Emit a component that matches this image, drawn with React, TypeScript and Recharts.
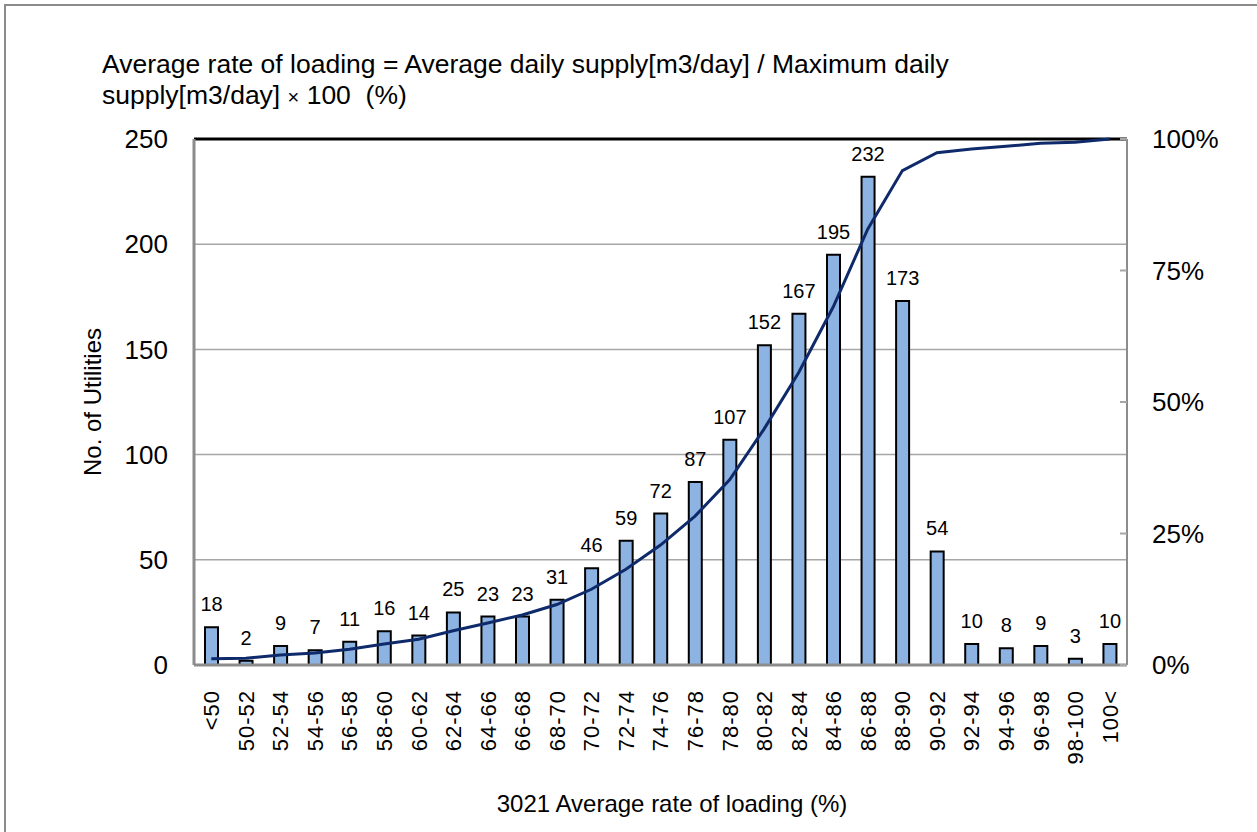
import React from "react";
import {
  ComposedChart,
  Bar,
  Line,
  XAxis,
  YAxis,
  CartesianGrid,
  ReferenceLine,
  LabelList,
} from "recharts";

// loading-rate bands (x axis)
const bands = [
  "<50", "50-52", "52-54", "54-56", "56-58", "58-60", "60-62", "62-64", "64-66",
  "66-68", "68-70", "70-72", "72-74", "74-76", "76-78", "78-80", "80-82", "82-84",
  "84-86", "86-88", "88-90", "90-92", "92-94", "94-96", "96-98", "98-100", "100<",
];

// number of utilities per band
const utilities = [
  18, 2, 9, 7, 11, 16, 14, 25, 23, 23, 31, 46, 59, 72, 87, 107, 152, 167, 195, 232,
  173, 54, 10, 8, 9, 3, 10,
];

// cumulative share (%)
const cumulative = [
  1.2, 1.3, 1.9, 2.3, 3.0, 4.0, 4.9, 6.5, 8.0, 9.5, 11.5, 14.4, 18.2, 22.8, 28.3,
  35.2, 44.9, 55.6, 68.1, 82.9, 94.0, 97.4, 98.1, 98.6, 99.2, 99.4, 100,
];

const leftTicks = [0, 50, 100, 150, 200, 250];
const rightTicks = [0, 25, 50, 75, 100];

const data = bands.map((band, i) => ({
  band,
  count: utilities[i],
  cum: cumulative[i],
}));

const FONT = '"Liberation Sans", Arial, sans-serif';

const BandTick = (props: any) => {
  const { x, y, payload } = props;
  return (
    <text
      x={x}
      y={y}
      dy="0.36em"
      transform={`rotate(-90, ${x}, ${y})`}
      textAnchor="end"
      fontSize={22}
      letterSpacing={1}
      fontFamily={FONT}
      fill="#000"
    >
      {payload.value}
    </text>
  );
};

const ShareTick = (props: any) => {
  const { x, y, payload } = props;
  return (
    <g>
      <line x1={x - 32} x2={x - 25} y1={y} y2={y} stroke="#a6a6a6" strokeWidth={2} />
      <text x={x} y={y} dy="0.36em" textAnchor="start" fontSize={26} fontFamily={FONT} fill="#000">
        {`${payload.value}%`}
      </text>
    </g>
  );
};

export default function App() {
  return (
    <div style={{ position: "absolute", left: 0, top: 0, width: 1257, height: 832, background: "#fff", overflow: "hidden", fontFamily: FONT }}>
      <div
        style={{
          position: "absolute",
          left: 4,
          top: 4,
          width: 1270,
          height: 850,
          border: "2px solid #8c8c8c",
          boxSizing: "border-box",
        }}
      />
      <div style={{ position: "absolute", left: 102, top: 49, fontSize: 26.5, lineHeight: "31px", color: "#000", whiteSpace: "nowrap" }}>
        Average rate of loading = Average daily supply[m3/day] / Maximum daily
        <br />
        supply[m3/day] <span style={{ fontSize: 20 }}>×</span> 100&nbsp; (%)
      </div>
      <div style={{ position: "absolute", left: 0, width: 1344, top: 790, textAlign: "center", fontSize: 24, color: "#000" }}>
        3021 Average rate of loading (%)
      </div>
      <ComposedChart
        width={1257}
        height={832}
        data={data}
        margin={{ top: 139, right: 30, bottom: 67, left: 74 }}
        barCategoryGap={0}
      >
        <CartesianGrid horizontal vertical={false} stroke="#a6a6a6" strokeWidth={1.5} yAxisId="left" />
        <XAxis
          dataKey="band"
          height={100}
          tick={<BandTick />}
          tickLine={false}
          tickSize={0}
          tickMargin={25}
          interval={0}
          axisLine={{ stroke: "#8c8c8c", strokeWidth: 3 }}
        />
        <YAxis
          yAxisId="left"
          width={120}
          domain={[0, 250]}
          ticks={leftTicks}
          tickLine={false}
          tickSize={0}
          tickMargin={26}
          axisLine={{ stroke: "#8c8c8c", strokeWidth: 3 }}
          tick={{ fontSize: 26, fontFamily: FONT, fill: "#000" }}
          label={{
            value: "No. of Utilities",
            angle: -90,
            position: "insideLeft",
            offset: 18,
            style: { fontSize: 24, fontFamily: FONT, fill: "#000", textAnchor: "middle" },
          }}
        />
        <YAxis
          yAxisId="right"
          orientation="right"
          width={100}
          domain={[0, 100]}
          ticks={rightTicks}
          tickLine={false}
          tickSize={0}
          tickMargin={25}
          axisLine={{ stroke: "#8c8c8c", strokeWidth: 2 }}
          tick={<ShareTick />}
        />
        <ReferenceLine yAxisId="left" y={250} stroke="#000" strokeWidth={3} />
        <Bar
          yAxisId="left"
          dataKey="count"
          barSize={13}
          fill="#8db3e2"
          stroke="#000"
          strokeWidth={2}
          isAnimationActive={false}
        >
          <LabelList dataKey="count" position="top" offset={16} fontSize={20} fontFamily={FONT} fill="#000" />
        </Bar>
        <Line
          yAxisId="right"
          dataKey="cum"
          type="linear"
          stroke="#0f2a6b"
          strokeWidth={3}
          dot={false}
          isAnimationActive={false}
        />
      </ComposedChart>
    </div>
  );
}
